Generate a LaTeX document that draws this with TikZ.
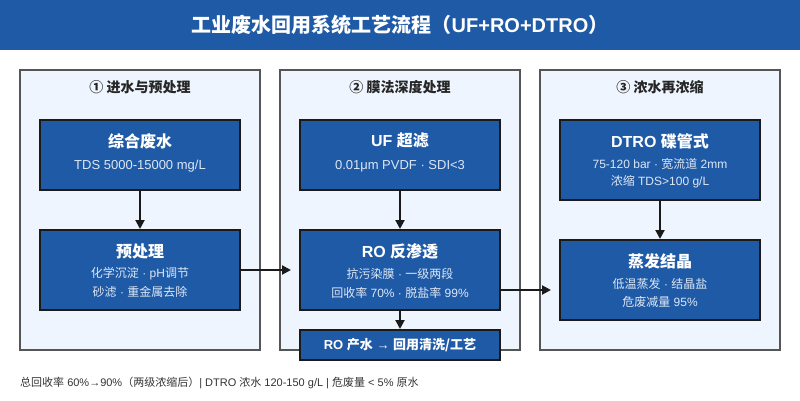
\documentclass[tikz,border=0pt]{standalone}
\usepackage{fontspec}
\setmainfont{Liberation Sans}
\newfontfamily\cjk{Noto Sans CJK SC}
\newcommand{\zh}[1]{{\cjk #1}}
\usetikzlibrary{arrows.meta}
\definecolor{barblue}{HTML}{1F5AA6}
\definecolor{panelfill}{HTML}{EEF5FE}
\definecolor{panelline}{HTML}{555555}
\definecolor{boxline}{HTML}{1A1A1A}
\definecolor{subtext}{HTML}{DDE7F5}
\definecolor{foottext}{HTML}{333333}

\begin{document}
\begin{tikzpicture}[x=1pt, y=1pt,
    panel/.style={draw=panelline, line width=1.5pt, fill=panelfill},
    panelhead/.style={font=\fontsize{14}{16}\selectfont\bfseries, text=black!85},
    stagebox/.style={draw=boxline, line width=2pt, fill=barblue, minimum width=200pt, inner sep=0pt},
    boxhead/.style={font=\fontsize{16}{18}\selectfont\bfseries, text=white},
    boxsub/.style={font=\fontsize{12}{14}\selectfont, text=subtext},
    flow/.style={-{Triangle[length=9pt,width=9pt]}, draw=boxline, line width=2pt}]
    \useasboundingbox (0,0) rectangle (800,400);

    % Barra de titulo
    \fill[barblue] (0,350) rectangle (800,400);
    \node[font=\fontsize{20}{22}\selectfont\bfseries, text=white] (title) at (400,375)
        {\zh{工业废水回用系统工艺流程（}UF+RO+DTRO\zh{）}};

    % Tres etapas
    \draw[panel] (20,50) rectangle (260,330);
    \draw[panel] (280,50) rectangle (520,330);
    \draw[panel] (540,50) rectangle (780,330);
    \node[panelhead] (head1) at (140,313) {\zh{① 进水与预处理}};
    \node[panelhead] (head2) at (400,313) {\zh{② 膜法深度处理}};
    \node[panelhead] (head3) at (660,313) {\zh{③ 浓水再浓缩}};

    % Caixas de processo
    \node[stagebox, minimum height=70pt] (feed) at (140,245) {};
    \node[boxhead] (feedh) at ([yshift=-22pt]feed.north) {\zh{综合废水}};
    \node[boxsub, font=\fontsize{13}{15}\selectfont] (feeds) at ([yshift=-47pt]feed.north) {TDS 5000-15000 mg/L};

    \node[stagebox, minimum height=80pt] (pre) at (140,130) {};
    \node[boxhead] (preh) at ([yshift=-22pt]pre.north) {\zh{预处理}};
    \node[boxsub] (pres1) at ([yshift=-45pt]pre.north) {\zh{化学沉淀} · pH\zh{调节}};
    \node[boxsub] (pres2) at ([yshift=-63pt]pre.north) {\zh{砂滤} · \zh{重金属去除}};

    \node[stagebox, minimum height=70pt] (uf) at (400,245) {};
    \node[boxhead] (ufh) at ([yshift=-22pt]uf.north) {UF \zh{超滤}};
    \node[boxsub, font=\fontsize{13}{15}\selectfont] (ufs) at ([yshift=-47pt]uf.north) {0.01μm PVDF · SDI<3};

    \node[stagebox, minimum height=80pt] (ro) at (400,130) {};
    \node[boxhead] (roh) at ([yshift=-22pt]ro.north) {RO \zh{反渗透}};
    \node[boxsub] (ros1) at ([yshift=-45pt]ro.north) {\zh{抗污染膜} · \zh{一级两段}};
    \node[boxsub] (ros2) at ([yshift=-64pt]ro.north) {\zh{回收率} 70\% · \zh{脱盐率} 99\%};

    \node[stagebox, minimum height=30pt] (prod) at (400,55) {};
    \node[font=\fontsize{13}{15}\selectfont\bfseries, text=white] (prodh) at (prod.center)
        {RO \zh{产水} → \zh{回用清洗/工艺}};

    \node[stagebox, minimum height=80pt] (dtro) at (660,240) {};
    \node[boxhead] (dtroh) at ([yshift=-22pt]dtro.north) {DTRO \zh{碟管式}};
    \node[boxsub] (dtros1) at ([yshift=-45pt]dtro.north) {75-120 bar · \zh{宽流道} 2mm};
    \node[boxsub] (dtros2) at ([yshift=-63pt]dtro.north) {\zh{浓缩} TDS>100 g/L};

    \node[stagebox, minimum height=80pt] (evap) at (660,120) {};
    \node[boxhead] (evaph) at ([yshift=-22pt]evap.north) {\zh{蒸发结晶}};
    \node[boxsub] (evaps1) at ([yshift=-45pt]evap.north) {\zh{低温蒸发} · \zh{结晶盐}};
    \node[boxsub] (evaps2) at ([yshift=-63pt]evap.north) {\zh{危废减量} 95\%};

    % Setas do fluxo
    \draw[flow] (feed.south) -- (pre.north);
    \draw[flow, shorten >=8pt] (pre.east) -- (ro.west);
    \draw[flow] (uf.south) -- (ro.north);
    \draw[flow] (ro.south) -- (prod.north);
    \draw[flow, shorten >=8pt] ([yshift=-20pt]ro.east) -- ([yshift=-10pt]evap.west);
    \draw[flow] (dtro.south) -- (evap.north);

    % Nota de rodape
    \node[anchor=west, inner sep=0pt, font=\fontsize{11}{13}\selectfont, text=foottext] (note) at (20,17)
        {\zh{总回收率} 60\%→90\%\zh{（两级浓缩后）}| DTRO \zh{浓水} 120-150 g/L | \zh{危废量} < 5\% \zh{原水}};
\end{tikzpicture}
\end{document}
